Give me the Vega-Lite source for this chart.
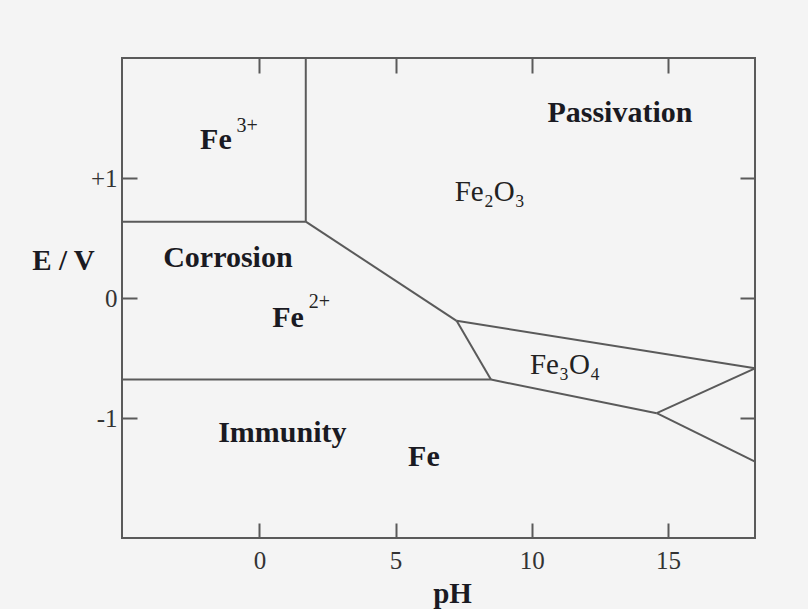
{
  "$schema": "https://vega.github.io/schema/vega-lite/v6.json",
  "width": 633,
  "height": 480,
  "autosize": {"type": "none"},
  "padding": {"left": 122, "top": 58, "right": 53, "bottom": 71},
  "background": "#f4f4f4",
  "config": {
    "view": {"stroke": "#5a5a5a", "strokeWidth": 2, "fill": "#f4f4f4"},
    "font": "Liberation Serif",
    "axis": {
      "domain": false,
      "grid": false,
      "tickColor": "#5a5a5a",
      "tickWidth": 2,
      "tickSize": -15,
      "labelFont": "Liberation Serif",
      "labelFontSize": 25,
      "labelColor": "#333333",
      "titleFont": "Liberation Serif",
      "titleFontSize": 29,
      "titleFontWeight": "bold",
      "titleColor": "#1a1a22"
    }
  },
  "datasets": {
    "segments": [
      {"pH1": 1.70, "E1": 2.0, "pH2": 1.70, "E2": 0.636},
      {"pH1": -5.05, "E1": 0.636, "pH2": 1.70, "E2": 0.636},
      {"pH1": 1.70, "E1": 0.636, "pH2": 7.24, "E2": -0.19},
      {"pH1": 7.24, "E1": -0.19, "pH2": 8.50, "E2": -0.68},
      {"pH1": -5.05, "E1": -0.68, "pH2": 8.50, "E2": -0.68},
      {"pH1": 7.24, "E1": -0.19, "pH2": 18.2, "E2": -0.586},
      {"pH1": 8.50, "E1": -0.68, "pH2": 14.59, "E2": -0.96},
      {"pH1": 14.59, "E1": -0.96, "pH2": 18.2, "E2": -0.586},
      {"pH1": 14.59, "E1": -0.96, "pH2": 18.2, "E2": -1.364}
    ],
    "boldLabels": [
      {"label": "Passivation", "pH": 13.24, "E": 1.542},
      {"label": "Corrosion", "pH": -1.16, "E": 0.333},
      {"label": "Immunity", "pH": 0.84, "E": -1.125},
      {"label": "Fe", "pH": -1.60, "E": 1.317},
      {"label": "Fe", "pH": 1.05, "E": -0.167},
      {"label": "Fe", "pH": 6.04, "E": -1.325}
    ],
    "regularLabels": [
      {"label": "Fe₂O₃", "pH": 8.46, "E": 0.883},
      {"label": "Fe₃O₄", "pH": 11.22, "E": -0.558}
    ],
    "superscripts": [
      {"label": "3+", "pH": -0.45, "E": 1.435},
      {"label": "2+", "pH": 2.2, "E": -0.03}
    ]
  },
  "resolve": {"axis": {"x": "independent", "y": "independent"}},
  "layer": [
    {
      "data": {"name": "segments"},
      "mark": {"type": "rule", "color": "#5a5a5a", "strokeWidth": 2},
      "encoding": {
        "x": {
          "field": "pH1", "type": "quantitative",
          "scale": {"domain": [-5.05, 18.2], "nice": false, "zero": false},
          "axis": {"orient": "bottom", "values": [0, 5, 10, 15], "labelPadding": 25, "title": "pH", "titleX": 330, "titleY": 64, "titleAlign": "center", "titleBaseline": "alphabetic", "titleAngle": 0}
        },
        "x2": {"field": "pH2"},
        "y": {
          "field": "E1", "type": "quantitative",
          "scale": {"domain": [-2, 2], "nice": false, "zero": false},
          "axis": {"orient": "left", "values": [-1, 0, 1], "labelExpr": "datum.value > 0 ? '+' + datum.value : (datum.value < 0 ? '-' + abs(datum.value) : '0')", "labelPadding": 20, "title": "E / V", "titleAngle": 0, "titleX": -59, "titleY": 202, "titleAlign": "center", "titleBaseline": "middle"}
        },
        "y2": {"field": "E2"}
      }
    },
    {
      "data": {"name": "boldLabels"},
      "mark": {"type": "text", "font": "Liberation Serif", "fontWeight": "bold", "fontSize": 30, "color": "#1a1a22", "baseline": "middle", "align": "center"},
      "encoding": {
        "x": {"field": "pH", "type": "quantitative", "axis": {"orient": "top", "values": [0, 5, 10, 15], "labels": false, "title": null}},
        "y": {"field": "E", "type": "quantitative", "axis": {"orient": "right", "values": [-1, 0, 1], "labels": false, "title": null}},
        "text": {"field": "label"}
      }
    },
    {
      "data": {"name": "regularLabels"},
      "mark": {"type": "text", "font": "Liberation Serif", "fontSize": 29, "color": "#222222", "baseline": "middle", "align": "center"},
      "encoding": {
        "x": {"field": "pH", "type": "quantitative", "axis": null},
        "y": {"field": "E", "type": "quantitative", "axis": null},
        "text": {"field": "label"}
      }
    },
    {
      "data": {"name": "superscripts"},
      "mark": {"type": "text", "font": "Liberation Serif", "fontSize": 20, "color": "#222222", "baseline": "middle", "align": "center"},
      "encoding": {
        "x": {"field": "pH", "type": "quantitative", "axis": null},
        "y": {"field": "E", "type": "quantitative", "axis": null},
        "text": {"field": "label"}
      }
    }
  ]
}
